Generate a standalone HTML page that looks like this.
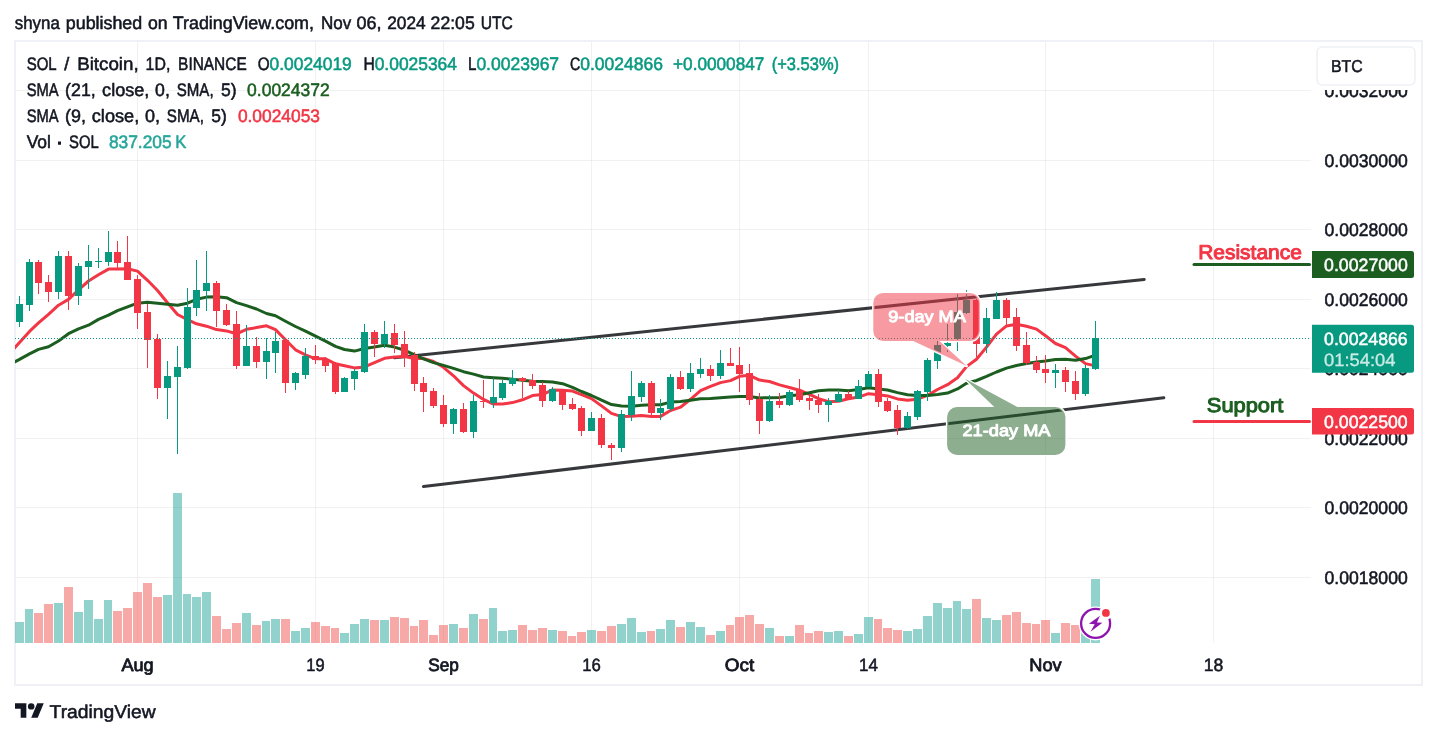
<!DOCTYPE html>
<html lang="en"><head><meta charset="utf-8"><title>SOL / Bitcoin chart</title>
<style>html,body{margin:0;padding:0;background:#fff}svg{display:block}</style></head>
<body>
<svg width="1437" height="738" viewBox="0 0 1437 738" font-family='"Liberation Sans", sans-serif' text-rendering="geometricPrecision">
<defs><clipPath id="plot"><rect x="15" y="42" width="1296" height="601"/></clipPath></defs>
<rect width="1437" height="738" fill="#fff"/>
<rect x="15" y="41" width="1407" height="644" fill="none" stroke="#eff1f6" stroke-width="2"/>
<g fill="rgba(50,52,56,0.07)" shape-rendering="crispEdges">
<rect x="137" y="42" width="1" height="601"/>
<rect x="315" y="42" width="1" height="601"/>
<rect x="443" y="42" width="1" height="601"/>
<rect x="591" y="42" width="1" height="601"/>
<rect x="739" y="42" width="1" height="601"/>
<rect x="868" y="42" width="1" height="601"/>
<rect x="1045" y="42" width="1" height="601"/>
<rect x="1213" y="42" width="1" height="601"/>
<rect x="16" y="90" width="1295" height="1"/>
<rect x="16" y="160" width="1295" height="1"/>
<rect x="16" y="229" width="1295" height="1"/>
<rect x="16" y="299" width="1295" height="1"/>
<rect x="16" y="368" width="1295" height="1"/>
<rect x="16" y="438" width="1295" height="1"/>
<rect x="16" y="507" width="1295" height="1"/>
<rect x="16" y="577" width="1295" height="1"/>
</g>
<g shape-rendering="crispEdges">
<rect x="15" y="622" width="9" height="21" fill="rgba(38,166,154,0.5)"/>
<rect x="25" y="609" width="8" height="34" fill="rgba(38,166,154,0.5)"/>
<rect x="34" y="613" width="9" height="30" fill="rgba(239,83,80,0.5)"/>
<rect x="44" y="604" width="9" height="39" fill="rgba(239,83,80,0.5)"/>
<rect x="54" y="603" width="9" height="40" fill="rgba(38,166,154,0.5)"/>
<rect x="64" y="587" width="9" height="56" fill="rgba(239,83,80,0.5)"/>
<rect x="74" y="612" width="9" height="31" fill="rgba(38,166,154,0.5)"/>
<rect x="84" y="600" width="9" height="43" fill="rgba(38,166,154,0.5)"/>
<rect x="94" y="619" width="9" height="24" fill="rgba(38,166,154,0.5)"/>
<rect x="104" y="600" width="8" height="43" fill="rgba(38,166,154,0.5)"/>
<rect x="113" y="611" width="9" height="32" fill="rgba(239,83,80,0.5)"/>
<rect x="123" y="608" width="9" height="35" fill="rgba(239,83,80,0.5)"/>
<rect x="133" y="592" width="9" height="51" fill="rgba(239,83,80,0.5)"/>
<rect x="143" y="583" width="9" height="60" fill="rgba(239,83,80,0.5)"/>
<rect x="153" y="597" width="9" height="46" fill="rgba(239,83,80,0.5)"/>
<rect x="163" y="595" width="9" height="48" fill="rgba(38,166,154,0.5)"/>
<rect x="173" y="493" width="9" height="150" fill="rgba(38,166,154,0.5)"/>
<rect x="183" y="594" width="8" height="49" fill="rgba(38,166,154,0.5)"/>
<rect x="192" y="597" width="9" height="46" fill="rgba(38,166,154,0.5)"/>
<rect x="202" y="592" width="9" height="51" fill="rgba(38,166,154,0.5)"/>
<rect x="212" y="616" width="9" height="27" fill="rgba(239,83,80,0.5)"/>
<rect x="222" y="629" width="9" height="14" fill="rgba(239,83,80,0.5)"/>
<rect x="232" y="623" width="9" height="20" fill="rgba(239,83,80,0.5)"/>
<rect x="242" y="613" width="9" height="30" fill="rgba(38,166,154,0.5)"/>
<rect x="252" y="625" width="9" height="18" fill="rgba(239,83,80,0.5)"/>
<rect x="262" y="621" width="8" height="22" fill="rgba(38,166,154,0.5)"/>
<rect x="271" y="619" width="9" height="24" fill="rgba(38,166,154,0.5)"/>
<rect x="281" y="619" width="9" height="24" fill="rgba(239,83,80,0.5)"/>
<rect x="291" y="631" width="9" height="12" fill="rgba(38,166,154,0.5)"/>
<rect x="301" y="628" width="9" height="15" fill="rgba(38,166,154,0.5)"/>
<rect x="311" y="622" width="9" height="21" fill="rgba(239,83,80,0.5)"/>
<rect x="321" y="626" width="9" height="17" fill="rgba(239,83,80,0.5)"/>
<rect x="331" y="628" width="8" height="15" fill="rgba(239,83,80,0.5)"/>
<rect x="340" y="633" width="9" height="10" fill="rgba(38,166,154,0.5)"/>
<rect x="350" y="624" width="9" height="19" fill="rgba(38,166,154,0.5)"/>
<rect x="360" y="619" width="9" height="24" fill="rgba(38,166,154,0.5)"/>
<rect x="370" y="620" width="9" height="23" fill="rgba(239,83,80,0.5)"/>
<rect x="380" y="620" width="9" height="23" fill="rgba(38,166,154,0.5)"/>
<rect x="390" y="617" width="9" height="26" fill="rgba(239,83,80,0.5)"/>
<rect x="400" y="618" width="9" height="25" fill="rgba(239,83,80,0.5)"/>
<rect x="410" y="626" width="8" height="17" fill="rgba(239,83,80,0.5)"/>
<rect x="419" y="620" width="9" height="23" fill="rgba(239,83,80,0.5)"/>
<rect x="429" y="635" width="9" height="8" fill="rgba(239,83,80,0.5)"/>
<rect x="439" y="625" width="9" height="18" fill="rgba(239,83,80,0.5)"/>
<rect x="449" y="624" width="9" height="19" fill="rgba(38,166,154,0.5)"/>
<rect x="459" y="628" width="9" height="15" fill="rgba(239,83,80,0.5)"/>
<rect x="469" y="614" width="9" height="29" fill="rgba(38,166,154,0.5)"/>
<rect x="479" y="619" width="9" height="24" fill="rgba(239,83,80,0.5)"/>
<rect x="489" y="608" width="8" height="35" fill="rgba(38,166,154,0.5)"/>
<rect x="498" y="631" width="9" height="12" fill="rgba(38,166,154,0.5)"/>
<rect x="508" y="630" width="9" height="13" fill="rgba(38,166,154,0.5)"/>
<rect x="518" y="625" width="9" height="18" fill="rgba(239,83,80,0.5)"/>
<rect x="528" y="630" width="9" height="13" fill="rgba(239,83,80,0.5)"/>
<rect x="538" y="628" width="9" height="15" fill="rgba(239,83,80,0.5)"/>
<rect x="548" y="630" width="9" height="13" fill="rgba(38,166,154,0.5)"/>
<rect x="558" y="631" width="9" height="12" fill="rgba(239,83,80,0.5)"/>
<rect x="568" y="636" width="8" height="7" fill="rgba(239,83,80,0.5)"/>
<rect x="577" y="632" width="9" height="11" fill="rgba(239,83,80,0.5)"/>
<rect x="587" y="630" width="9" height="13" fill="rgba(38,166,154,0.5)"/>
<rect x="597" y="631" width="9" height="12" fill="rgba(239,83,80,0.5)"/>
<rect x="607" y="626" width="9" height="17" fill="rgba(239,83,80,0.5)"/>
<rect x="617" y="624" width="9" height="19" fill="rgba(38,166,154,0.5)"/>
<rect x="627" y="618" width="9" height="25" fill="rgba(38,166,154,0.5)"/>
<rect x="637" y="632" width="9" height="11" fill="rgba(38,166,154,0.5)"/>
<rect x="647" y="631" width="8" height="12" fill="rgba(239,83,80,0.5)"/>
<rect x="656" y="629" width="9" height="14" fill="rgba(38,166,154,0.5)"/>
<rect x="666" y="620" width="9" height="23" fill="rgba(38,166,154,0.5)"/>
<rect x="676" y="627" width="9" height="16" fill="rgba(239,83,80,0.5)"/>
<rect x="686" y="622" width="9" height="21" fill="rgba(38,166,154,0.5)"/>
<rect x="696" y="627" width="9" height="16" fill="rgba(38,166,154,0.5)"/>
<rect x="706" y="635" width="9" height="8" fill="rgba(239,83,80,0.5)"/>
<rect x="716" y="631" width="9" height="12" fill="rgba(38,166,154,0.5)"/>
<rect x="726" y="625" width="8" height="18" fill="rgba(239,83,80,0.5)"/>
<rect x="735" y="617" width="9" height="26" fill="rgba(239,83,80,0.5)"/>
<rect x="745" y="615" width="9" height="28" fill="rgba(239,83,80,0.5)"/>
<rect x="755" y="624" width="9" height="19" fill="rgba(239,83,80,0.5)"/>
<rect x="765" y="628" width="9" height="15" fill="rgba(38,166,154,0.5)"/>
<rect x="775" y="636" width="9" height="7" fill="rgba(239,83,80,0.5)"/>
<rect x="785" y="636" width="9" height="7" fill="rgba(38,166,154,0.5)"/>
<rect x="795" y="625" width="9" height="18" fill="rgba(239,83,80,0.5)"/>
<rect x="805" y="633" width="8" height="10" fill="rgba(239,83,80,0.5)"/>
<rect x="814" y="631" width="9" height="12" fill="rgba(239,83,80,0.5)"/>
<rect x="824" y="632" width="9" height="11" fill="rgba(38,166,154,0.5)"/>
<rect x="834" y="631" width="9" height="12" fill="rgba(38,166,154,0.5)"/>
<rect x="844" y="636" width="9" height="7" fill="rgba(239,83,80,0.5)"/>
<rect x="854" y="634" width="9" height="9" fill="rgba(38,166,154,0.5)"/>
<rect x="864" y="617" width="9" height="26" fill="rgba(38,166,154,0.5)"/>
<rect x="874" y="619" width="8" height="24" fill="rgba(239,83,80,0.5)"/>
<rect x="883" y="628" width="9" height="15" fill="rgba(239,83,80,0.5)"/>
<rect x="893" y="630" width="9" height="13" fill="rgba(239,83,80,0.5)"/>
<rect x="903" y="631" width="9" height="12" fill="rgba(38,166,154,0.5)"/>
<rect x="913" y="629" width="9" height="14" fill="rgba(38,166,154,0.5)"/>
<rect x="923" y="616" width="9" height="27" fill="rgba(38,166,154,0.5)"/>
<rect x="933" y="603" width="9" height="40" fill="rgba(38,166,154,0.5)"/>
<rect x="943" y="608" width="9" height="35" fill="rgba(38,166,154,0.5)"/>
<rect x="953" y="601" width="8" height="42" fill="rgba(38,166,154,0.5)"/>
<rect x="962" y="609" width="9" height="34" fill="rgba(38,166,154,0.5)"/>
<rect x="972" y="599" width="9" height="44" fill="rgba(239,83,80,0.5)"/>
<rect x="982" y="618" width="9" height="25" fill="rgba(38,166,154,0.5)"/>
<rect x="992" y="620" width="9" height="23" fill="rgba(38,166,154,0.5)"/>
<rect x="1002" y="615" width="9" height="28" fill="rgba(239,83,80,0.5)"/>
<rect x="1012" y="612" width="9" height="31" fill="rgba(239,83,80,0.5)"/>
<rect x="1022" y="623" width="9" height="20" fill="rgba(239,83,80,0.5)"/>
<rect x="1032" y="624" width="8" height="19" fill="rgba(239,83,80,0.5)"/>
<rect x="1041" y="620" width="9" height="23" fill="rgba(239,83,80,0.5)"/>
<rect x="1051" y="633" width="9" height="10" fill="rgba(38,166,154,0.5)"/>
<rect x="1061" y="623" width="9" height="20" fill="rgba(239,83,80,0.5)"/>
<rect x="1071" y="625" width="9" height="18" fill="rgba(239,83,80,0.5)"/>
<rect x="1081" y="626" width="9" height="17" fill="rgba(38,166,154,0.5)"/>
<rect x="1091" y="579" width="9" height="64" fill="rgba(38,166,154,0.5)"/>
</g>
<g stroke="#37383c" stroke-width="3" stroke-linecap="round" fill="none">
<line x1="394.5" y1="357.8" x2="1144.2" y2="279.4"/>
<line x1="423.5" y1="486.5" x2="1163.8" y2="397.8"/>
</g>
<polyline clip-path="url(#plot)" points="9.5,353.5 19.5,342.6 29.5,331.4 38.5,322.9 48.5,314.3 58.5,305.2 68.5,299.4 78.5,289.8 88.5,281.0 98.5,274.8 108.5,269.1 117.5,269.1 127.5,268.7 137.5,271.1 147.5,280.3 157.5,290.5 167.5,302.7 177.5,314.5 187.5,319.6 196.5,323.8 206.5,326.2 216.5,329.6 226.5,330.9 236.5,333.8 246.5,329.3 256.5,327.6 266.5,325.8 275.5,329.6 285.5,339.8 295.5,349.8 305.5,354.9 315.5,358.8 325.5,358.8 335.5,363.8 344.5,365.7 354.5,367.9 364.5,366.9 374.5,362.6 384.5,358.3 394.5,356.9 404.5,356.5 414.5,358.5 423.5,358.5 433.5,361.5 443.5,367.3 453.5,375.8 463.5,385.6 473.5,393.1 483.5,399.4 493.5,404.1 502.5,404.1 512.5,402.6 522.5,399.8 532.5,395.6 542.5,394.6 552.5,389.9 562.5,390.3 572.5,391.1 581.5,394.7 591.5,398.6 601.5,405.9 611.5,413.4 621.5,416.6 631.5,416.2 641.5,415.5 651.5,416.4 660.5,416.4 670.5,410.5 680.5,407.2 690.5,399.3 700.5,390.6 710.5,386.3 720.5,382.6 730.5,380.6 739.5,376.3 749.5,375.3 759.5,380.1 769.5,381.5 779.5,384.9 789.5,387.5 799.5,390.2 809.5,394.3 818.5,398.6 828.5,401.7 838.5,401.2 848.5,398.7 858.5,397.1 868.5,393.7 878.5,394.7 887.5,395.9 897.5,398.9 907.5,400.3 917.5,399.2 927.5,395.4 937.5,389.5 947.5,384.7 957.5,377.8 966.5,366.6 976.5,359.2 986.5,347.1 996.5,334.2 1006.5,325.9 1016.5,324.3 1026.5,326.2 1036.5,329.1 1045.5,335.7 1055.5,343.5 1065.5,347.7 1075.5,356.1 1085.5,363.6 1095.5,365.9" fill="none" stroke="#f23645" stroke-width="3" stroke-linejoin="round" stroke-linecap="round"/>
<polyline clip-path="url(#plot)" points="9.5,364.5 19.5,359.4 29.5,353.9 38.5,349.4 48.5,346.7 58.5,341.0 68.5,333.7 78.5,328.8 88.5,325.2 98.5,319.4 108.5,315.2 117.5,310.6 127.5,306.8 137.5,303.2 147.5,302.3 157.5,303.2 167.5,304.3 177.5,305.2 187.5,303.2 196.5,299.3 206.5,297.1 216.5,296.7 226.5,297.7 236.5,302.6 246.5,305.6 256.5,309.0 266.5,313.5 275.5,315.7 285.5,321.2 295.5,326.5 305.5,331.1 315.5,336.2 325.5,341.1 335.5,346.4 344.5,349.5 354.5,351.1 364.5,348.5 374.5,346.9 384.5,345.3 394.5,347.1 404.5,350.2 414.5,354.9 423.5,358.8 433.5,362.6 443.5,365.4 453.5,368.4 463.5,371.7 473.5,374.1 483.5,377.0 493.5,377.7 502.5,378.2 512.5,379.2 522.5,380.2 532.5,381.2 542.5,381.6 552.5,382.1 562.5,383.7 572.5,387.3 581.5,391.5 591.5,395.5 601.5,400.2 611.5,404.6 621.5,406.1 631.5,406.3 641.5,405.3 651.5,404.7 660.5,404.7 670.5,402.1 680.5,401.5 690.5,400.2 700.5,398.8 710.5,398.5 720.5,397.7 730.5,397.0 739.5,396.5 749.5,396.4 759.5,397.9 769.5,397.7 779.5,397.5 789.5,395.7 799.5,394.8 809.5,392.7 818.5,390.7 828.5,390.1 838.5,390.0 848.5,390.7 858.5,389.5 868.5,387.8 878.5,389.0 887.5,390.0 897.5,392.6 907.5,394.8 917.5,395.6 927.5,395.5 937.5,394.5 947.5,393.1 957.5,388.9 966.5,383.2 976.5,380.5 986.5,376.4 996.5,372.0 1006.5,368.1 1016.5,365.5 1026.5,363.5 1036.5,361.9 1045.5,360.9 1055.5,359.5 1065.5,359.3 1075.5,360.2 1085.5,358.6 1095.5,355.2" fill="none" stroke="#1b5e20" stroke-width="3" stroke-linejoin="round" stroke-linecap="round"/>
<g shape-rendering="crispEdges">
<rect x="19" y="296" width="1" height="31" fill="#089981"/>
<rect x="16" y="304" width="7" height="18" fill="#089981"/>
<rect x="29" y="259" width="1" height="52" fill="#089981"/>
<rect x="26" y="262" width="7" height="43" fill="#089981"/>
<rect x="38" y="260" width="1" height="34" fill="#f23645"/>
<rect x="35" y="262" width="7" height="21" fill="#f23645"/>
<rect x="48" y="275" width="1" height="27" fill="#f23645"/>
<rect x="45" y="282" width="7" height="10" fill="#f23645"/>
<rect x="58" y="251" width="1" height="48" fill="#089981"/>
<rect x="55" y="256" width="7" height="36" fill="#089981"/>
<rect x="68" y="251" width="1" height="59" fill="#f23645"/>
<rect x="65" y="256" width="7" height="40" fill="#f23645"/>
<rect x="78" y="263" width="1" height="42" fill="#089981"/>
<rect x="75" y="266" width="7" height="30" fill="#089981"/>
<rect x="88" y="245" width="1" height="44" fill="#089981"/>
<rect x="85" y="261" width="7" height="6" fill="#089981"/>
<rect x="98" y="248" width="1" height="20" fill="#089981"/>
<rect x="95" y="261" width="7" height="1" fill="#089981"/>
<rect x="108" y="231" width="1" height="35" fill="#089981"/>
<rect x="105" y="252" width="7" height="10" fill="#089981"/>
<rect x="117" y="241" width="1" height="28" fill="#f23645"/>
<rect x="114" y="252" width="7" height="11" fill="#f23645"/>
<rect x="127" y="236" width="1" height="44" fill="#f23645"/>
<rect x="124" y="262" width="7" height="18" fill="#f23645"/>
<rect x="137" y="275" width="1" height="54" fill="#f23645"/>
<rect x="134" y="279" width="7" height="34" fill="#f23645"/>
<rect x="147" y="304" width="1" height="64" fill="#f23645"/>
<rect x="144" y="312" width="7" height="28" fill="#f23645"/>
<rect x="157" y="334" width="1" height="65" fill="#f23645"/>
<rect x="154" y="339" width="7" height="49" fill="#f23645"/>
<rect x="167" y="361" width="1" height="58" fill="#089981"/>
<rect x="164" y="376" width="7" height="12" fill="#089981"/>
<rect x="177" y="346" width="1" height="108" fill="#089981"/>
<rect x="174" y="367" width="7" height="10" fill="#089981"/>
<rect x="187" y="288" width="1" height="81" fill="#089981"/>
<rect x="184" y="307" width="7" height="61" fill="#089981"/>
<rect x="196" y="260" width="1" height="56" fill="#089981"/>
<rect x="193" y="290" width="7" height="18" fill="#089981"/>
<rect x="206" y="251" width="1" height="60" fill="#089981"/>
<rect x="203" y="283" width="7" height="8" fill="#089981"/>
<rect x="216" y="281" width="1" height="46" fill="#f23645"/>
<rect x="213" y="283" width="7" height="28" fill="#f23645"/>
<rect x="226" y="304" width="1" height="22" fill="#f23645"/>
<rect x="223" y="310" width="7" height="15" fill="#f23645"/>
<rect x="236" y="311" width="1" height="58" fill="#f23645"/>
<rect x="233" y="324" width="7" height="42" fill="#f23645"/>
<rect x="246" y="325" width="1" height="41" fill="#089981"/>
<rect x="243" y="346" width="7" height="20" fill="#089981"/>
<rect x="256" y="337" width="1" height="31" fill="#f23645"/>
<rect x="253" y="346" width="7" height="16" fill="#f23645"/>
<rect x="266" y="338" width="1" height="41" fill="#089981"/>
<rect x="263" y="351" width="7" height="11" fill="#089981"/>
<rect x="275" y="332" width="1" height="41" fill="#089981"/>
<rect x="272" y="341" width="7" height="12" fill="#089981"/>
<rect x="285" y="339" width="1" height="54" fill="#f23645"/>
<rect x="282" y="340" width="7" height="43" fill="#f23645"/>
<rect x="295" y="372" width="1" height="18" fill="#089981"/>
<rect x="292" y="373" width="7" height="10" fill="#089981"/>
<rect x="305" y="348" width="1" height="31" fill="#089981"/>
<rect x="302" y="356" width="7" height="19" fill="#089981"/>
<rect x="315" y="345" width="1" height="19" fill="#f23645"/>
<rect x="312" y="356" width="7" height="4" fill="#f23645"/>
<rect x="325" y="357" width="1" height="15" fill="#f23645"/>
<rect x="322" y="359" width="7" height="7" fill="#f23645"/>
<rect x="335" y="362" width="1" height="32" fill="#f23645"/>
<rect x="332" y="363" width="7" height="29" fill="#f23645"/>
<rect x="344" y="377" width="1" height="15" fill="#089981"/>
<rect x="341" y="378" width="7" height="14" fill="#089981"/>
<rect x="354" y="369" width="1" height="21" fill="#089981"/>
<rect x="351" y="371" width="7" height="8" fill="#089981"/>
<rect x="364" y="324" width="1" height="49" fill="#089981"/>
<rect x="361" y="332" width="7" height="40" fill="#089981"/>
<rect x="374" y="330" width="1" height="27" fill="#f23645"/>
<rect x="371" y="332" width="7" height="12" fill="#f23645"/>
<rect x="384" y="321" width="1" height="27" fill="#089981"/>
<rect x="381" y="334" width="7" height="10" fill="#089981"/>
<rect x="394" y="324" width="1" height="29" fill="#f23645"/>
<rect x="391" y="333" width="7" height="12" fill="#f23645"/>
<rect x="404" y="331" width="1" height="36" fill="#f23645"/>
<rect x="401" y="344" width="7" height="12" fill="#f23645"/>
<rect x="414" y="352" width="1" height="39" fill="#f23645"/>
<rect x="411" y="355" width="7" height="29" fill="#f23645"/>
<rect x="423" y="377" width="1" height="35" fill="#f23645"/>
<rect x="420" y="383" width="7" height="9" fill="#f23645"/>
<rect x="433" y="388" width="1" height="20" fill="#f23645"/>
<rect x="430" y="391" width="7" height="15" fill="#f23645"/>
<rect x="443" y="395" width="1" height="32" fill="#f23645"/>
<rect x="440" y="405" width="7" height="19" fill="#f23645"/>
<rect x="453" y="408" width="1" height="26" fill="#089981"/>
<rect x="450" y="409" width="7" height="15" fill="#089981"/>
<rect x="463" y="403" width="1" height="30" fill="#f23645"/>
<rect x="460" y="409" width="7" height="23" fill="#f23645"/>
<rect x="473" y="395" width="1" height="43" fill="#089981"/>
<rect x="470" y="401" width="7" height="31" fill="#089981"/>
<rect x="483" y="380" width="1" height="28" fill="#f23645"/>
<rect x="480" y="401" width="7" height="1" fill="#f23645"/>
<rect x="493" y="378" width="1" height="30" fill="#089981"/>
<rect x="490" y="397" width="7" height="6" fill="#089981"/>
<rect x="502" y="380" width="1" height="20" fill="#089981"/>
<rect x="499" y="383" width="7" height="15" fill="#089981"/>
<rect x="512" y="370" width="1" height="16" fill="#089981"/>
<rect x="509" y="378" width="7" height="6" fill="#089981"/>
<rect x="522" y="377" width="1" height="21" fill="#f23645"/>
<rect x="519" y="378" width="7" height="3" fill="#f23645"/>
<rect x="532" y="374" width="1" height="15" fill="#f23645"/>
<rect x="529" y="380" width="7" height="6" fill="#f23645"/>
<rect x="542" y="382" width="1" height="25" fill="#f23645"/>
<rect x="539" y="385" width="7" height="16" fill="#f23645"/>
<rect x="552" y="387" width="1" height="15" fill="#089981"/>
<rect x="549" y="389" width="7" height="12" fill="#089981"/>
<rect x="562" y="389" width="1" height="21" fill="#f23645"/>
<rect x="559" y="390" width="7" height="15" fill="#f23645"/>
<rect x="572" y="398" width="1" height="12" fill="#f23645"/>
<rect x="569" y="404" width="7" height="5" fill="#f23645"/>
<rect x="581" y="406" width="1" height="30" fill="#f23645"/>
<rect x="578" y="408" width="7" height="23" fill="#f23645"/>
<rect x="591" y="412" width="1" height="19" fill="#089981"/>
<rect x="588" y="418" width="7" height="13" fill="#089981"/>
<rect x="601" y="414" width="1" height="34" fill="#f23645"/>
<rect x="598" y="418" width="7" height="27" fill="#f23645"/>
<rect x="611" y="443" width="1" height="17" fill="#f23645"/>
<rect x="608" y="445" width="7" height="3" fill="#f23645"/>
<rect x="621" y="410" width="1" height="42" fill="#089981"/>
<rect x="618" y="414" width="7" height="34" fill="#089981"/>
<rect x="631" y="371" width="1" height="50" fill="#089981"/>
<rect x="628" y="396" width="7" height="19" fill="#089981"/>
<rect x="641" y="381" width="1" height="21" fill="#089981"/>
<rect x="638" y="383" width="7" height="14" fill="#089981"/>
<rect x="651" y="381" width="1" height="34" fill="#f23645"/>
<rect x="648" y="383" width="7" height="30" fill="#f23645"/>
<rect x="660" y="399" width="1" height="21" fill="#089981"/>
<rect x="657" y="408" width="7" height="5" fill="#089981"/>
<rect x="670" y="374" width="1" height="37" fill="#089981"/>
<rect x="667" y="377" width="7" height="32" fill="#089981"/>
<rect x="680" y="371" width="1" height="19" fill="#f23645"/>
<rect x="677" y="377" width="7" height="12" fill="#f23645"/>
<rect x="690" y="363" width="1" height="29" fill="#089981"/>
<rect x="687" y="373" width="7" height="16" fill="#089981"/>
<rect x="700" y="358" width="1" height="20" fill="#089981"/>
<rect x="697" y="369" width="7" height="5" fill="#089981"/>
<rect x="710" y="365" width="1" height="16" fill="#f23645"/>
<rect x="707" y="369" width="7" height="7" fill="#f23645"/>
<rect x="720" y="350" width="1" height="29" fill="#089981"/>
<rect x="717" y="363" width="7" height="13" fill="#089981"/>
<rect x="730" y="348" width="1" height="18" fill="#f23645"/>
<rect x="727" y="363" width="7" height="3" fill="#f23645"/>
<rect x="739" y="347" width="1" height="45" fill="#f23645"/>
<rect x="736" y="365" width="7" height="9" fill="#f23645"/>
<rect x="749" y="364" width="1" height="41" fill="#f23645"/>
<rect x="746" y="373" width="7" height="27" fill="#f23645"/>
<rect x="759" y="393" width="1" height="41" fill="#f23645"/>
<rect x="756" y="399" width="7" height="22" fill="#f23645"/>
<rect x="769" y="395" width="1" height="27" fill="#089981"/>
<rect x="766" y="401" width="7" height="20" fill="#089981"/>
<rect x="779" y="393" width="1" height="15" fill="#f23645"/>
<rect x="776" y="401" width="7" height="4" fill="#f23645"/>
<rect x="789" y="390" width="1" height="16" fill="#089981"/>
<rect x="786" y="392" width="7" height="13" fill="#089981"/>
<rect x="799" y="379" width="1" height="23" fill="#f23645"/>
<rect x="796" y="391" width="7" height="9" fill="#f23645"/>
<rect x="809" y="395" width="1" height="15" fill="#f23645"/>
<rect x="806" y="398" width="7" height="3" fill="#f23645"/>
<rect x="818" y="394" width="1" height="19" fill="#f23645"/>
<rect x="815" y="400" width="7" height="5" fill="#f23645"/>
<rect x="828" y="398" width="1" height="24" fill="#089981"/>
<rect x="825" y="401" width="7" height="4" fill="#089981"/>
<rect x="838" y="390" width="1" height="12" fill="#089981"/>
<rect x="835" y="394" width="7" height="8" fill="#089981"/>
<rect x="848" y="391" width="1" height="8" fill="#f23645"/>
<rect x="845" y="394" width="7" height="5" fill="#f23645"/>
<rect x="858" y="380" width="1" height="19" fill="#089981"/>
<rect x="855" y="386" width="7" height="13" fill="#089981"/>
<rect x="868" y="371" width="1" height="16" fill="#089981"/>
<rect x="865" y="374" width="7" height="13" fill="#089981"/>
<rect x="878" y="369" width="1" height="38" fill="#f23645"/>
<rect x="875" y="374" width="7" height="28" fill="#f23645"/>
<rect x="887" y="398" width="1" height="14" fill="#f23645"/>
<rect x="884" y="401" width="7" height="10" fill="#f23645"/>
<rect x="897" y="405" width="1" height="30" fill="#f23645"/>
<rect x="894" y="410" width="7" height="18" fill="#f23645"/>
<rect x="907" y="412" width="1" height="17" fill="#089981"/>
<rect x="904" y="416" width="7" height="12" fill="#089981"/>
<rect x="917" y="390" width="1" height="30" fill="#089981"/>
<rect x="914" y="391" width="7" height="26" fill="#089981"/>
<rect x="927" y="358" width="1" height="43" fill="#089981"/>
<rect x="924" y="360" width="7" height="32" fill="#089981"/>
<rect x="937" y="341" width="1" height="28" fill="#089981"/>
<rect x="934" y="345" width="7" height="16" fill="#089981"/>
<rect x="947" y="324" width="1" height="28" fill="#089981"/>
<rect x="944" y="343" width="7" height="3" fill="#089981"/>
<rect x="957" y="294" width="1" height="57" fill="#089981"/>
<rect x="954" y="312" width="7" height="27" fill="#089981"/>
<rect x="966" y="290" width="1" height="24" fill="#089981"/>
<rect x="963" y="300" width="7" height="13" fill="#089981"/>
<rect x="976" y="299" width="1" height="58" fill="#f23645"/>
<rect x="973" y="300" width="7" height="44" fill="#f23645"/>
<rect x="986" y="308" width="1" height="45" fill="#089981"/>
<rect x="983" y="318" width="7" height="26" fill="#089981"/>
<rect x="996" y="292" width="1" height="27" fill="#089981"/>
<rect x="993" y="300" width="7" height="19" fill="#089981"/>
<rect x="1006" y="298" width="1" height="27" fill="#f23645"/>
<rect x="1003" y="300" width="7" height="18" fill="#f23645"/>
<rect x="1016" y="308" width="1" height="43" fill="#f23645"/>
<rect x="1013" y="317" width="7" height="29" fill="#f23645"/>
<rect x="1026" y="332" width="1" height="33" fill="#f23645"/>
<rect x="1023" y="345" width="7" height="18" fill="#f23645"/>
<rect x="1036" y="356" width="1" height="17" fill="#f23645"/>
<rect x="1033" y="362" width="7" height="8" fill="#f23645"/>
<rect x="1045" y="355" width="1" height="28" fill="#f23645"/>
<rect x="1042" y="369" width="7" height="4" fill="#f23645"/>
<rect x="1055" y="364" width="1" height="24" fill="#089981"/>
<rect x="1052" y="370" width="7" height="3" fill="#089981"/>
<rect x="1065" y="367" width="1" height="25" fill="#f23645"/>
<rect x="1062" y="370" width="7" height="12" fill="#f23645"/>
<rect x="1075" y="371" width="1" height="29" fill="#f23645"/>
<rect x="1072" y="381" width="7" height="13" fill="#f23645"/>
<rect x="1085" y="365" width="1" height="31" fill="#089981"/>
<rect x="1082" y="368" width="7" height="26" fill="#089981"/>
<rect x="1095" y="321" width="1" height="49" fill="#089981"/>
<rect x="1092" y="338" width="7" height="31" fill="#089981"/>
</g>
<line x1="15" y1="338.5" x2="1310" y2="338.5" stroke="#089981" stroke-width="1" stroke-dasharray="1 2" shape-rendering="crispEdges"/>
<path d="M883.3,292.9 H969.9 A10,10 0 0 1 979.9,302.9 V331.1 A10,10 0 0 1 969.9,341.1 H939.4 L966.8,366.1 L913.2,341.1 H883.3 A10,10 0 0 1 873.3,331.1 V302.9 A10,10 0 0 1 883.3,292.9 Z" fill="rgba(242,54,69,0.5)" stroke="#fff" stroke-width="2.4" paint-order="stroke" stroke-linejoin="round"/>
<path d="M957.1,407 H994.3 L965,378.8 L1017.4,407 H1055.4 A10,10 0 0 1 1065.4,417 V445 A10,10 0 0 1 1055.4,455 H957.1 A10,10 0 0 1 947.1,445 V417 A10,10 0 0 1 957.1,407 Z" fill="rgba(27,94,32,0.5)" stroke="#fff" stroke-width="2.4" paint-order="stroke" stroke-linejoin="round"/>
<line x1="1194" y1="264.5" x2="1309.5" y2="264.5" stroke="#1b5e20" stroke-width="3" stroke-linecap="round"/>
<line x1="1194" y1="421.4" x2="1309.5" y2="421.4" stroke="#f23645" stroke-width="3" stroke-linecap="round"/>
<text x="1324.6" y="96.6" font-size="18.2" fill="#131722" stroke="#131722" stroke-width="0.55" stroke-linejoin="round" font-weight="normal" textLength="83.1" lengthAdjust="spacingAndGlyphs" >0.0032000</text>
<text x="1324.6" y="166.6" font-size="18.2" fill="#131722" stroke="#131722" stroke-width="0.55" stroke-linejoin="round" font-weight="normal" textLength="83.1" lengthAdjust="spacingAndGlyphs" >0.0030000</text>
<text x="1324.6" y="236.1" font-size="18.2" fill="#131722" stroke="#131722" stroke-width="0.55" stroke-linejoin="round" font-weight="normal" textLength="83.1" lengthAdjust="spacingAndGlyphs" >0.0028000</text>
<text x="1324.6" y="305.6" font-size="18.2" fill="#131722" stroke="#131722" stroke-width="0.55" stroke-linejoin="round" font-weight="normal" textLength="83.1" lengthAdjust="spacingAndGlyphs" >0.0026000</text>
<text x="1324.6" y="375.20000000000005" font-size="18.2" fill="#131722" stroke="#131722" stroke-width="0.55" stroke-linejoin="round" font-weight="normal" textLength="83.1" lengthAdjust="spacingAndGlyphs" >0.0024000</text>
<text x="1324.6" y="444.8" font-size="18.2" fill="#131722" stroke="#131722" stroke-width="0.55" stroke-linejoin="round" font-weight="normal" textLength="83.1" lengthAdjust="spacingAndGlyphs" >0.0022000</text>
<text x="1324.6" y="514.2" font-size="18.2" fill="#131722" stroke="#131722" stroke-width="0.55" stroke-linejoin="round" font-weight="normal" textLength="83.1" lengthAdjust="spacingAndGlyphs" >0.0020000</text>
<text x="1324.6" y="583.9" font-size="18.2" fill="#131722" stroke="#131722" stroke-width="0.55" stroke-linejoin="round" font-weight="normal" textLength="83.1" lengthAdjust="spacingAndGlyphs" >0.0018000</text>
<rect x="1312" y="43" width="108" height="47" fill="#fff"/>
<rect x="1317" y="47" width="98" height="38" rx="5" ry="5" fill="#fff" stroke="#eff1f6" stroke-width="1.6"/>
<text x="1331.0" y="71.7" font-size="17.2" fill="#131722" stroke="#131722" stroke-width="0.55" stroke-linejoin="round" font-weight="normal" textLength="31.7" lengthAdjust="spacingAndGlyphs" >BTC</text>
<path d="M1312,251.1 H1411.5 A2.5,2.5 0 0 1 1414,253.6 V275.4 A2.5,2.5 0 0 1 1411.5,277.9 H1312 Z" fill="#1b5e20"/>
<text x="1324.1" y="270.9" font-size="17.8" fill="#fff" stroke="#fff" stroke-width="0.5" stroke-linejoin="round" font-weight="normal" textLength="83.7" lengthAdjust="spacingAndGlyphs" >0.0027000</text>
<path d="M1312,324.8 H1411.5 A2.5,2.5 0 0 1 1414,327.3 V370.3 A2.5,2.5 0 0 1 1411.5,372.8 H1312 Z" fill="#089981"/>
<text x="1324.1" y="344.8" font-size="17.8" fill="#fff" stroke="#fff" stroke-width="0.5" stroke-linejoin="round" font-weight="normal" textLength="83.6" lengthAdjust="spacingAndGlyphs" >0.0024866</text>
<text x="1324.1" y="366.1" font-size="17.8" fill="#c9ebe5" stroke="#c9ebe5" stroke-width="0.3" stroke-linejoin="round" font-weight="normal" textLength="71.4" lengthAdjust="spacingAndGlyphs" >01:54:04</text>
<path d="M1312,408.1 H1411.5 A2.5,2.5 0 0 1 1414,410.6 V431.9 A2.5,2.5 0 0 1 1411.5,434.4 H1312 Z" fill="#f23645"/>
<text x="1324.1" y="427.7" font-size="17.8" fill="#fff" stroke="#fff" stroke-width="0.5" stroke-linejoin="round" font-weight="normal" textLength="83.6" lengthAdjust="spacingAndGlyphs" >0.0022500</text>
<text x="1198.2" y="258.7" font-size="20" fill="#f23645" stroke="#f23645" stroke-width="1.0" stroke-linejoin="round" font-weight="normal" textLength="103.7" lengthAdjust="spacingAndGlyphs" >Resistance</text>
<text x="1206.8" y="411.7" font-size="20" fill="#1b5e20" stroke="#1b5e20" stroke-width="1.0" stroke-linejoin="round" font-weight="normal" textLength="76.6" lengthAdjust="spacingAndGlyphs" >Support</text>
<text x="888.3" y="321.6" font-size="16.3" fill="#fff" stroke="#fff" stroke-width="0.95" stroke-linejoin="round" font-weight="normal" textLength="77.5" lengthAdjust="spacingAndGlyphs" >9-day MA</text>
<text x="962.5" y="435.7" font-size="16.3" fill="#fff" stroke="#fff" stroke-width="0.95" stroke-linejoin="round" font-weight="normal" textLength="87.9" lengthAdjust="spacingAndGlyphs" >21-day MA</text>
<text x="14.8" y="28.8" font-size="18" fill="#131722" stroke="#131722" stroke-width="0.55" stroke-linejoin="round" font-weight="normal" textLength="45.0" lengthAdjust="spacingAndGlyphs" >shyna</text>
<text x="65.8" y="28.8" font-size="18" fill="#131722" stroke="#131722" stroke-width="0.55" stroke-linejoin="round" font-weight="normal" textLength="76.4" lengthAdjust="spacingAndGlyphs" >published</text>
<text x="148.0" y="28.8" font-size="18" fill="#131722" stroke="#131722" stroke-width="0.55" stroke-linejoin="round" font-weight="normal" textLength="19.6" lengthAdjust="spacingAndGlyphs" >on</text>
<text x="172.7" y="28.8" font-size="18" fill="#131722" stroke="#131722" stroke-width="0.55" stroke-linejoin="round" font-weight="normal" textLength="141.3" lengthAdjust="spacingAndGlyphs" >TradingView.com,</text>
<text x="320.9" y="28.8" font-size="18" fill="#131722" stroke="#131722" stroke-width="0.55" stroke-linejoin="round" font-weight="normal" textLength="30.3" lengthAdjust="spacingAndGlyphs" >Nov</text>
<text x="356.4" y="28.8" font-size="18" fill="#131722" stroke="#131722" stroke-width="0.55" stroke-linejoin="round" font-weight="normal" textLength="25.0" lengthAdjust="spacingAndGlyphs" >06,</text>
<text x="387.2" y="28.8" font-size="18" fill="#131722" stroke="#131722" stroke-width="0.55" stroke-linejoin="round" font-weight="normal" textLength="38.4" lengthAdjust="spacingAndGlyphs" >2024</text>
<text x="430.6" y="28.8" font-size="18" fill="#131722" stroke="#131722" stroke-width="0.55" stroke-linejoin="round" font-weight="normal" textLength="44.1" lengthAdjust="spacingAndGlyphs" >22:05</text>
<text x="480.7" y="28.8" font-size="18" fill="#131722" stroke="#131722" stroke-width="0.55" stroke-linejoin="round" font-weight="normal" textLength="32.2" lengthAdjust="spacingAndGlyphs" >UTC</text>
<text x="26.7" y="69.7" font-size="18" fill="#131722" stroke="#131722" stroke-width="0.55" stroke-linejoin="round" font-weight="normal" textLength="30.0" lengthAdjust="spacingAndGlyphs" >SOL</text>
<text x="64.3" y="69.7" font-size="18" fill="#131722" stroke="#131722" stroke-width="0.55" font-weight="normal">/</text>
<text x="77.2" y="69.7" font-size="18" fill="#131722" stroke="#131722" stroke-width="0.55" stroke-linejoin="round" font-weight="normal" textLength="61.4" lengthAdjust="spacingAndGlyphs" >Bitcoin,</text>
<text x="145.6" y="69.7" font-size="18" fill="#131722" stroke="#131722" stroke-width="0.55" stroke-linejoin="round" font-weight="normal" textLength="24.7" lengthAdjust="spacingAndGlyphs" >1D,</text>
<text x="178.1" y="69.7" font-size="18" fill="#131722" stroke="#131722" stroke-width="0.55" stroke-linejoin="round" font-weight="normal" textLength="68.6" lengthAdjust="spacingAndGlyphs" >BINANCE</text>
<text x="257.8" y="69.7" font-size="18" fill="#131722" stroke="#131722" stroke-width="0.55" stroke-linejoin="round" font-weight="normal" textLength="11.9" lengthAdjust="spacingAndGlyphs" >O</text>
<text x="269.5" y="69.7" font-size="18" fill="#089981" stroke="#089981" stroke-width="0.55" stroke-linejoin="round" font-weight="normal" textLength="82.3" lengthAdjust="spacingAndGlyphs" >0.0024019</text>
<text x="363.4" y="69.7" font-size="18" fill="#131722" stroke="#131722" stroke-width="0.55" stroke-linejoin="round" font-weight="normal" textLength="11.3" lengthAdjust="spacingAndGlyphs" >H</text>
<text x="374.7" y="69.7" font-size="18" fill="#089981" stroke="#089981" stroke-width="0.55" stroke-linejoin="round" font-weight="normal" textLength="82.3" lengthAdjust="spacingAndGlyphs" >0.0025364</text>
<text x="467.9" y="69.7" font-size="18" fill="#131722" stroke="#131722" stroke-width="0.55" stroke-linejoin="round" font-weight="normal" textLength="8.4" lengthAdjust="spacingAndGlyphs" >L</text>
<text x="476.4" y="69.7" font-size="18" fill="#089981" stroke="#089981" stroke-width="0.55" stroke-linejoin="round" font-weight="normal" textLength="82.7" lengthAdjust="spacingAndGlyphs" >0.0023967</text>
<text x="570.0" y="69.7" font-size="18" fill="#131722" stroke="#131722" stroke-width="0.55" stroke-linejoin="round" font-weight="normal" textLength="10.3" lengthAdjust="spacingAndGlyphs" >C</text>
<text x="580.2" y="69.7" font-size="18" fill="#089981" stroke="#089981" stroke-width="0.55" stroke-linejoin="round" font-weight="normal" textLength="82.7" lengthAdjust="spacingAndGlyphs" >0.0024866</text>
<text x="673.1" y="69.7" font-size="18" fill="#089981" stroke="#089981" stroke-width="0.55" stroke-linejoin="round" font-weight="normal" textLength="91.2" lengthAdjust="spacingAndGlyphs" >+0.0000847</text>
<text x="771.7" y="69.7" font-size="18" fill="#089981" stroke="#089981" stroke-width="0.55" stroke-linejoin="round" font-weight="normal" textLength="67.4" lengthAdjust="spacingAndGlyphs" >(+3.53%)</text>
<text x="26.7" y="95.8" font-size="18" fill="#131722" stroke="#131722" stroke-width="0.55" stroke-linejoin="round" font-weight="normal" textLength="32.0" lengthAdjust="spacingAndGlyphs" >SMA</text>
<text x="65.1" y="95.8" font-size="18" fill="#131722" stroke="#131722" stroke-width="0.55" stroke-linejoin="round" font-weight="normal" textLength="30.6" lengthAdjust="spacingAndGlyphs" >(21,</text>
<text x="102.1" y="95.8" font-size="18" fill="#131722" stroke="#131722" stroke-width="0.55" stroke-linejoin="round" font-weight="normal" textLength="47.2" lengthAdjust="spacingAndGlyphs" >close,</text>
<text x="155.1" y="95.8" font-size="18" fill="#131722" stroke="#131722" stroke-width="0.55" stroke-linejoin="round" font-weight="normal" textLength="14.7" lengthAdjust="spacingAndGlyphs" >0,</text>
<text x="176.7" y="95.8" font-size="18" fill="#131722" stroke="#131722" stroke-width="0.55" stroke-linejoin="round" font-weight="normal" textLength="36.9" lengthAdjust="spacingAndGlyphs" >SMA,</text>
<text x="221.0" y="95.8" font-size="18" fill="#131722" stroke="#131722" stroke-width="0.55" stroke-linejoin="round" font-weight="normal" textLength="15.6" lengthAdjust="spacingAndGlyphs" >5)</text>
<text x="247.1" y="95.8" font-size="18" fill="#1b5e20" stroke="#1b5e20" stroke-width="0.55" stroke-linejoin="round" font-weight="normal" textLength="82.6" lengthAdjust="spacingAndGlyphs" >0.0024372</text>
<text x="26.7" y="121.9" font-size="18" fill="#131722" stroke="#131722" stroke-width="0.55" stroke-linejoin="round" font-weight="normal" textLength="32.0" lengthAdjust="spacingAndGlyphs" >SMA</text>
<text x="65.1" y="121.9" font-size="18" fill="#131722" stroke="#131722" stroke-width="0.55" stroke-linejoin="round" font-weight="normal" textLength="20.9" lengthAdjust="spacingAndGlyphs" >(9,</text>
<text x="91.8" y="121.9" font-size="18" fill="#131722" stroke="#131722" stroke-width="0.55" stroke-linejoin="round" font-weight="normal" textLength="47.4" lengthAdjust="spacingAndGlyphs" >close,</text>
<text x="145.0" y="121.9" font-size="18" fill="#131722" stroke="#131722" stroke-width="0.55" stroke-linejoin="round" font-weight="normal" textLength="15.0" lengthAdjust="spacingAndGlyphs" >0,</text>
<text x="166.8" y="121.9" font-size="18" fill="#131722" stroke="#131722" stroke-width="0.55" stroke-linejoin="round" font-weight="normal" textLength="37.1" lengthAdjust="spacingAndGlyphs" >SMA,</text>
<text x="211.2" y="121.9" font-size="18" fill="#131722" stroke="#131722" stroke-width="0.55" stroke-linejoin="round" font-weight="normal" textLength="15.5" lengthAdjust="spacingAndGlyphs" >5)</text>
<text x="237.9" y="121.9" font-size="18" fill="#f23645" stroke="#f23645" stroke-width="0.55" stroke-linejoin="round" font-weight="normal" textLength="82.1" lengthAdjust="spacingAndGlyphs" >0.0024053</text>
<text x="26.7" y="148.0" font-size="18" fill="#131722" stroke="#131722" stroke-width="0.55" stroke-linejoin="round" font-weight="normal" textLength="24.2" lengthAdjust="spacingAndGlyphs" >Vol</text>
<text x="56.4" y="148.0" font-size="18" fill="#131722" stroke="#131722" stroke-width="1.3" font-weight="normal">·</text>
<text x="69.0" y="148.0" font-size="18" fill="#131722" stroke="#131722" stroke-width="0.55" stroke-linejoin="round" font-weight="normal" textLength="29.7" lengthAdjust="spacingAndGlyphs" >SOL</text>
<text x="108.9" y="148.0" font-size="18" fill="#26a69a" stroke="#26a69a" stroke-width="0.55" stroke-linejoin="round" font-weight="normal" textLength="62.8" lengthAdjust="spacingAndGlyphs" >837.205</text>
<text x="175.2" y="148.0" font-size="18" fill="#26a69a" stroke="#26a69a" stroke-width="0.55" stroke-linejoin="round" font-weight="normal" textLength="11.1" lengthAdjust="spacingAndGlyphs" >K</text>
<text x="121.4" y="670.8" font-size="17.8" fill="#131722" stroke="#131722" stroke-width="0.8" stroke-linejoin="round" font-weight="normal" textLength="32.2" lengthAdjust="spacingAndGlyphs" >Aug</text>
<text x="306.3" y="670.8" font-size="17.8" fill="#131722" stroke="#131722" stroke-width="0.55" stroke-linejoin="round" font-weight="normal" textLength="18.3" lengthAdjust="spacingAndGlyphs" >19</text>
<text x="428.2" y="670.8" font-size="17.8" fill="#131722" stroke="#131722" stroke-width="0.8" stroke-linejoin="round" font-weight="normal" textLength="30.6" lengthAdjust="spacingAndGlyphs" >Sep</text>
<text x="582.2" y="670.8" font-size="17.8" fill="#131722" stroke="#131722" stroke-width="0.55" stroke-linejoin="round" font-weight="normal" textLength="18.6" lengthAdjust="spacingAndGlyphs" >16</text>
<text x="724.8" y="670.8" font-size="17.8" fill="#131722" stroke="#131722" stroke-width="0.8" stroke-linejoin="round" font-weight="normal" textLength="29.4" lengthAdjust="spacingAndGlyphs" >Oct</text>
<text x="859.0" y="670.8" font-size="17.8" fill="#131722" stroke="#131722" stroke-width="0.55" stroke-linejoin="round" font-weight="normal" textLength="18.9" lengthAdjust="spacingAndGlyphs" >14</text>
<text x="1029.3" y="670.8" font-size="17.8" fill="#131722" stroke="#131722" stroke-width="0.8" stroke-linejoin="round" font-weight="normal" textLength="32.3" lengthAdjust="spacingAndGlyphs" >Nov</text>
<text x="1203.7" y="670.8" font-size="17.8" fill="#131722" stroke="#131722" stroke-width="0.55" stroke-linejoin="round" font-weight="normal" textLength="19.6" lengthAdjust="spacingAndGlyphs" >18</text>
<circle cx="1095.6" cy="623.4" r="17" fill="#fff"/>
<circle cx="1095.6" cy="623.4" r="14.5" fill="#fff" stroke="#8f14ad" stroke-width="2.3"/>
<path d="M1100,615.8 L1088.9,623.8 L1094.7,624.2 L1090.5,631.8 L1102.4,622.7 L1096.9,622.4 Z" fill="#8f14ad"/>
<circle cx="1105.9" cy="612.9" r="6.8" fill="#fff"/>
<circle cx="1105.9" cy="612.9" r="3.9" fill="#f23645"/>
<g transform="translate(15,699.9) scale(0.81)" fill="#131722"><path d="M14 22H7V11H0V4h14v18z"/><path d="M28 22h-8l7.5-18h8L28 22z"/><circle cx="20" cy="8" r="4"/></g>
<text x="49.6" y="717.8" font-size="18.5" fill="#131722" stroke="#131722" stroke-width="0.55" stroke-linejoin="round" font-weight="normal" textLength="106.1" lengthAdjust="spacingAndGlyphs" >TradingView</text>
</svg>
</body></html>
